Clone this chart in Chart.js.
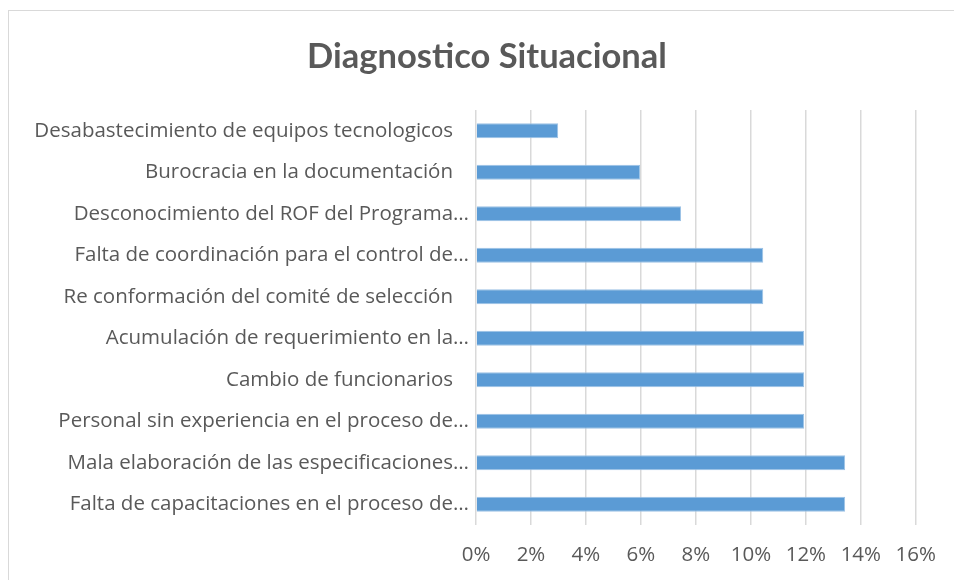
<!DOCTYPE html>
<html>
<head>
<meta charset="utf-8">
<script src="https://cdn.jsdelivr.net/npm/chart.js@4"></script>
<style>
  html, body { margin: 0; padding: 0; background: #fff; }
  #wrap { position: relative; width: 954px; height: 580px; overflow: hidden; }
  #frame { position: absolute; left: 8px; top: 10px; width: 960px; height: 600px; border: 1px solid #d9d9d9; box-sizing: border-box; }
  #chart { position: absolute; left: 0; top: 0; }
  #titulo {
    position: absolute; left: 0; top: 34px; width: 974px; margin: 0;
    text-align: center; font: bold 34.5px Lato, sans-serif; line-height: 42px; color: #595959;
  }
</style>
</head>
<body>
<div id="wrap">
  <div id="frame"></div>
  <canvas id="chart" width="954" height="580"></canvas>
  <h1 id="titulo">Diagnostico Situacional</h1>
</div>
<script>
// datos
const categorias = [
  "Desabastecimiento de equipos tecnologicos   ",
  "Burocracia en la documentación   ",
  "Desconocimiento del ROF del Programa…",
  "Falta de coordinación para el control de…",
  "Re conformación del comité de selección   ",
  "Acumulación de requerimiento en la…",
  "Cambio de funcionarios   ",
  "Personal sin experiencia en el proceso de…",
  "Mala elaboración de las especificaciones…",
  "Falta de capacitaciones en el proceso de…"
];
const porcentajes = [2.99, 5.97, 7.46, 10.45, 10.45, 11.94, 11.94, 11.94, 13.43, 13.43];
const ticksX = [0, 2, 4, 6, 8, 10, 12, 14, 16];

const FUENTE = "'Open Sans', sans-serif";
const GRIS = "#595959";

new Chart(document.getElementById("chart"), {
  type: "bar",
  data: {
    labels: categorias,
    datasets: [{
      data: porcentajes,
      backgroundColor: "#5b9bd5",
      borderColor: "#9cc2e5",
      borderWidth: 1,
      barPercentage: 0.72,
      categoryPercentage: 0.5
    }]
  },
  options: {
    indexAxis: "y",
    responsive: false,
    animation: false,
    // el titulo va en html (centrado en el marco), aqui solo el espacio
    layout: { padding: { top: 110, right: 36, bottom: 0, left: 0 } },
    plugins: {
      legend: { display: false },
      tooltip: { enabled: false },
      title: { display: false }
    },
    scales: {
      x: {
        min: 0,
        max: 16,
        afterBuildTicks: s => { s.ticks = ticksX.map(v => ({ value: v })); },
        afterFit: s => { s.height = 55; },
        border: { display: false },
        grid: { color: "#d9d9d9", lineWidth: 1.5, drawTicks: false },
        ticks: {
          color: GRIS,
          padding: 18,
          font: { family: FUENTE, size: 20.5 },
          callback: v => v + "%"
        }
      },
      y: {
        afterFit: s => { s.width = 476; },
        border: { display: false },
        grid: { display: false, drawTicks: false },
        ticks: {
          color: GRIS,
          padding: 7,
          autoSkip: false,
          font: { family: FUENTE, size: 20.5 }
        }
      }
    }
  }
});
</script>
</body>
</html>
